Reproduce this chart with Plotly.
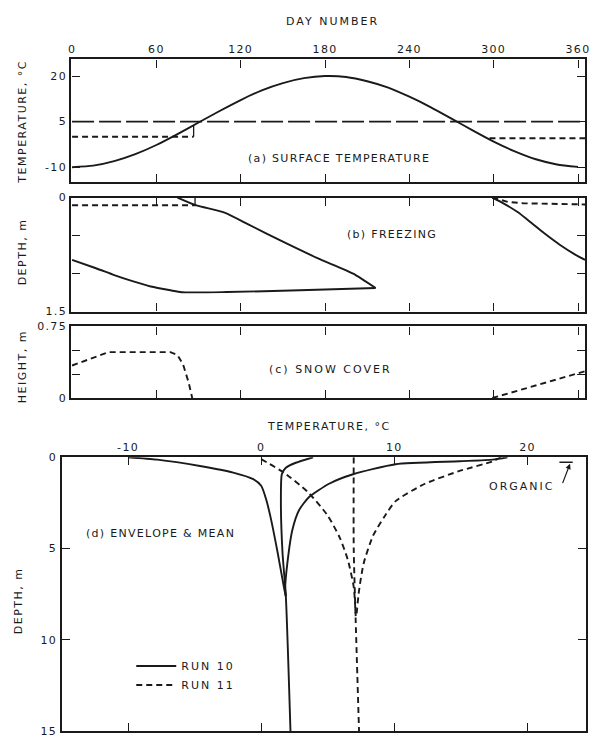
import plotly.graph_objects as go

# ---------------- data ----------------
# (a) surface temperature
day_ticks = [0, 60, 120, 180, 240, 300, 360]
day_labels = ["0", "60", "120", "180", "240", "300", "360"]
surf_day = [0, 15, 30, 45, 60, 75, 90, 105, 120, 135, 150, 165, 180, 195, 210, 225, 240,
            255, 270, 285, 300, 315, 330, 345, 360]
surf_temp = [-10.0, -9.5, -8.0, -5.7, -2.7, 0.9, 4.7, 8.5, 12.1, 15.3, 17.7, 19.3, 20.0,
             19.7, 18.3, 16.2, 13.2, 9.8, 6.0, 2.1, -1.6, -4.8, -7.4, -9.1, -9.9]
mean_day = [0, 365]
mean_temp = [5, 5]
snowsurf1_day = [0, 86.5]
snowsurf1_temp = [0, 0]
snowsurf2_day = [297, 365]
snowsurf2_temp = [-0.5, -0.5]
step_day = [86.5, 86.5]
step_temp = [0, 3.9]
temp_a_ticks = [-10, 5, 20]

# (b) freezing
thaw_day = [75, 88, 109, 125, 150, 175, 200, 216]
thaw_depth = [0, 0.10, 0.20, 0.35, 0.58, 0.80, 1.00, 1.19]
frost_day = [0, 17, 30, 43, 56, 70, 78, 110, 162, 216]
frost_depth = [0.82, 0.93, 1.02, 1.10, 1.17, 1.22, 1.245, 1.243, 1.22, 1.19]
fall_day = [299, 305, 317, 326, 336, 347, 358, 365]
fall_depth = [0, 0.056, 0.19, 0.32, 0.47, 0.62, 0.75, 0.82]
dash_b1_day = [0, 88]
dash_b1_depth = [0.1, 0.1]
dash_b2_day = [299, 310, 321, 365]
dash_b2_depth = [0, 0.056, 0.075, 0.09]
step_b_day = [87.5, 87.5]
step_b_depth = [0, 0.1]
depth_b_ticks = [0, 0.5, 1.0, 1.5]
depth_b_labels = ["0", "", "", "1.5"]

# (c) snow cover
snow1_day = [0, 26, 70, 75, 79, 83, 85.5]
snow1_h = [0.34, 0.48, 0.48, 0.45, 0.35, 0.16, 0]
snow2_day = [299, 365]
snow2_h = [0, 0.28]
h_ticks = [0, 0.25, 0.5, 0.75]
h_labels = ["0", "", "", "0.75"]

# (d) envelope & mean
temp_d_ticks = [-10, 0, 10, 20]
depth_d_ticks = [0, 5, 10, 15]
r10_cold_t = [-10.0, -7.8, -4.6, -2.1, -0.6, 0.0, 0.37, 0.74, 1.23, 1.73, 1.85]
r10_cold_d = [0, 0.13, 0.48, 0.84, 1.2, 1.56, 2.3, 3.4, 5.2, 7.2, 7.6]
r10_mean_t = [3.9, 2.6, 1.85, 1.55, 1.48, 1.6, 1.85, 2.2]
r10_mean_d = [0, 0.3, 0.57, 0.93, 2.5, 5.2, 7.6, 15]
r10_warm_t = [18.5, 17.4, 14.9, 10.1, 6.9, 5.1, 3.58, 2.84, 2.34, 1.97, 1.8, 1.85]
r10_warm_d = [0, 0.13, 0.22, 0.38, 0.93, 1.45, 2.19, 2.9, 3.98, 5.77, 7.2, 7.6]
r11_cold_t = [0.0, 1.7, 3.5, 5.0, 5.9, 6.5, 6.95, 7.1]
r11_cold_d = [0.1, 0.84, 1.9, 3.2, 4.4, 5.6, 7.1, 8.7]
r11_mean_t = [6.95, 6.95, 7.1, 7.35]
r11_mean_d = [0, 5, 9, 15]
r11_warm_t = [18.0, 17.4, 14.9, 12.3, 10.1, 9.3, 8.4, 7.7, 7.35, 7.15]
r11_warm_d = [0, 0.22, 0.75, 1.45, 2.4, 3.2, 4.3, 5.8, 7.3, 8.7]
organic_t = [22.4, 23.4]
organic_d = [0.27, 0.27]

# ---------------- styling ----------------
FONT = "DejaVu Sans"
INK = "#1a1a1a"
LS = 1.3


def sp(s, ls=LS):
    return f'<span style="letter-spacing:{ls}px">{s}</span>'


solid = dict(color=INK, width=1.9)
solid_s = dict(color=INK, width=1.9, shape="spline", smoothing=0.6)
dashed = dict(color=INK, width=1.9, dash="6px,4px")
dashed_s = dict(color=INK, width=1.9, dash="6px,4px", shape="spline", smoothing=0.6)

fig = go.Figure()


def add(x, y, line, xa, ya, name=None, legend=False):
    fig.add_trace(go.Scatter(x=x, y=y, mode="lines", line=line, xaxis=xa, yaxis=ya,
                             name=name, showlegend=legend, hoverinfo="skip"))


# panel a
add(surf_day, surf_temp, solid_s, "x", "y")
add(mean_day, mean_temp, dict(color=INK, width=1.9, dash="22px,5px"), "x", "y")
add(snowsurf1_day, snowsurf1_temp, dashed, "x", "y")
add(snowsurf2_day, snowsurf2_temp, dashed, "x", "y")
add(step_day, step_temp, dict(color=INK, width=1.3), "x", "y")

# panel b
add(thaw_day, thaw_depth, solid_s, "x2", "y2")
add(frost_day, frost_depth, solid_s, "x2", "y2")
add(fall_day, fall_depth, solid_s, "x2", "y2")
add(dash_b1_day, dash_b1_depth, dashed, "x2", "y2")
add(dash_b2_day, dash_b2_depth, dashed, "x2", "y2")
add(step_b_day, step_b_depth, dict(color=INK, width=1.3), "x2", "y2")

# panel c
add(snow1_day, snow1_h, dashed, "x3", "y3")
add(snow2_day, snow2_h, dashed, "x3", "y3")

# panel d
add(r10_cold_t, r10_cold_d, solid_s, "x4", "y4", name=sp("RUN 10", 2), legend=True)
add(r10_mean_t, r10_mean_d, solid_s, "x4", "y4")
add(r10_warm_t, r10_warm_d, solid_s, "x4", "y4")
add(r11_cold_t, r11_cold_d, dashed_s, "x4", "y4", name=sp("RUN 11", 2), legend=True)
add(r11_mean_t, r11_mean_d, dashed_s, "x4", "y4")
add(r11_warm_t, r11_warm_d, dashed_s, "x4", "y4")
add(organic_t, organic_d, dict(color=INK, width=1.4), "x4", "y4")

H = 744.0
W = 593.0


def ydom(top_px, bot_px):
    return [1 - bot_px / H, 1 - top_px / H]


xdom_abc = [69.3 / W, 590 / W]
xdom_d = [59.3 / W, 591 / W]

axis_common = dict(showgrid=False, zeroline=False, showline=True, linecolor=INK,
                   linewidth=2.4, mirror="ticks", ticks="inside", ticklen=8,
                   tickwidth=1.4, tickcolor=INK, ticklabeloverflow="allow",
                   tickfont=dict(family=FONT, size=11, color=INK))

fig.update_layout(
    width=593, height=744, margin=dict(l=0, r=0, t=0, b=0),
    paper_bgcolor="white", plot_bgcolor="white",
    font=dict(family=FONT, size=11, color=INK),
    showlegend=True,
    legend=dict(x=130 / W, y=1 - 657 / H, xanchor="left", yanchor="top",
                bgcolor="rgba(0,0,0,0)", font=dict(family=FONT, size=11, color=INK),
                itemwidth=40, tracegroupgap=0),
    xaxis=dict(domain=xdom_abc, range=[-0.5, 365], side="top", anchor="y",
               tickvals=day_ticks, ticktext=[sp(t) for t in day_labels], **axis_common),
    yaxis=dict(domain=ydom(54.3, 179.5), range=[-15, 25.5], anchor="x",
               tickvals=temp_a_ticks, ticktext=[sp(str(t)) for t in temp_a_ticks],
               **axis_common),
    xaxis2=dict(domain=xdom_abc, range=[-0.5, 365], anchor="y2", tickvals=day_ticks,
                showticklabels=False, **axis_common),
    yaxis2=dict(domain=ydom(195, 311), range=[1.5, 0], anchor="x2",
                tickvals=depth_b_ticks, ticktext=[sp(t) for t in depth_b_labels],
                **axis_common),
    xaxis3=dict(domain=xdom_abc, range=[-0.5, 365], anchor="y3", tickvals=day_ticks,
                showticklabels=False, **axis_common),
    yaxis3=dict(domain=ydom(326, 399), range=[0, 0.75], anchor="x3",
                tickvals=h_ticks, ticktext=[sp(t) for t in h_labels], **axis_common),
    xaxis4=dict(domain=xdom_d, range=[-15, 24.4], side="top", anchor="y4",
                tickvals=temp_d_ticks, ticktext=[sp(str(t)) for t in temp_d_ticks],
                **axis_common),
    yaxis4=dict(domain=ydom(459.3, 738), range=[15, 0], anchor="x4",
                tickvals=depth_d_ticks, ticktext=[sp(str(t)) for t in depth_d_ticks],
                **axis_common),
)

ann_font = dict(family=FONT, size=11, color=INK)
anns = [
    dict(text=sp("DAY NUMBER", 2), x=334 / W, y=1 - 16 / H, xref="paper", yref="paper"),
    dict(text=sp("TEMPERATURE, °C", 1.5), x=330.6 / W, y=1 - 428 / H, xref="paper", yref="paper"),
    dict(text=sp("TEMPERATURE, °C", 1.5), x=20 / W, y=1 - 118 / H, xref="paper", yref="paper",
         textangle=-90),
    dict(text=sp("DEPTH, m", 1.5), x=20 / W, y=1 - 250 / H, xref="paper", yref="paper",
         textangle=-90),
    dict(text=sp("HEIGHT, m", 1.5), x=20 / W, y=1 - 367 / H, xref="paper", yref="paper",
         textangle=-90),
    dict(text=sp("DEPTH, m", 1.5), x=16 / W, y=1 - 605 / H, xref="paper", yref="paper",
         textangle=-90),
    dict(text=sp("(a) SURFACE TEMPERATURE"), x=190, y=-7, xref="x", yref="y"),
    dict(text=sp("(b) FREEZING"), x=228, y=0.48, xref="x2", yref="y2"),
    dict(text=sp("(c) SNOW COVER", 2), x=184, y=0.3, xref="x3", yref="y3"),
    dict(text=sp("(d) ENVELOPE & MEAN"), x=-7.6, y=4.16, xref="x4", yref="y4"),
    dict(text=sp("ORGANIC", 2), x=19.6, y=1.6, xref="x4", yref="y4"),
]
for a in anns:
    fig.add_annotation(showarrow=False, font=ann_font, xanchor="center", yanchor="middle", **a)

fig.add_annotation(text="", x=23.2, y=0.35, xref="x4", yref="y4", ax=22.6, ay=1.5,
                   axref="x4", ayref="y4", showarrow=True, arrowhead=2, arrowsize=0.9,
                   arrowwidth=1.2, arrowcolor=INK)

fig.write_html("out.html", config={"displayModeBar": False},
               post_script="document.body.style.margin='0';document.body.style.overflow='hidden';")
